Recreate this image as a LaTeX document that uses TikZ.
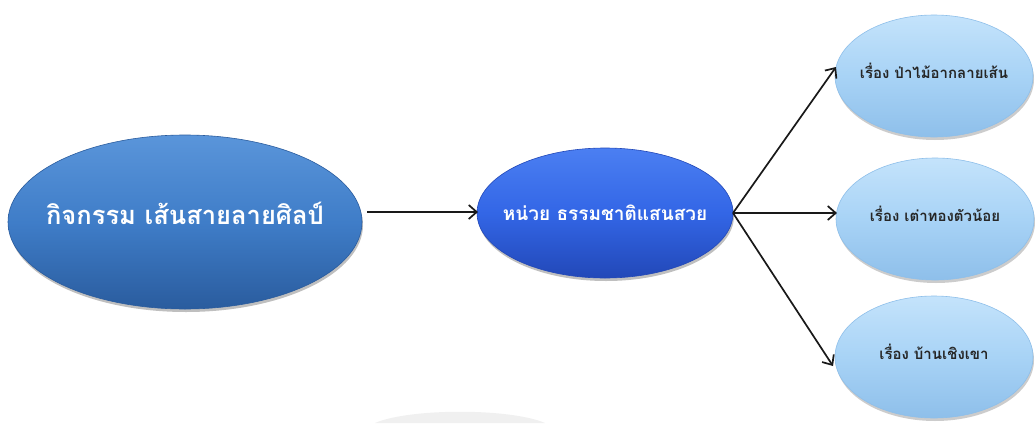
\documentclass[tikz,border=0pt]{standalone}
\usepackage{fontspec}
\newfontfamily\thaifont[Script=Thai]{Loma}
\usetikzlibrary{shapes.geometric,shadows,arrows.meta}
\definecolor{bigblue}{HTML}{3F7DC8}
\definecolor{bigblueD}{HTML}{2A5C9E}
\definecolor{bigblueL}{HTML}{5A95DA}
\definecolor{midblue}{HTML}{3366E6}
\definecolor{midblueD}{HTML}{2248B8}
\definecolor{midblueL}{HTML}{4B7FF2}
\definecolor{lblue}{HTML}{A8D3F6}
\definecolor{lblueD}{HTML}{8EBFEA}
\definecolor{lblueL}{HTML}{C4E3FB}
\tikzset{
  bigell/.style={ellipse, minimum width=354pt, minimum height=174pt, inner sep=0pt,
    draw=bigblueD, line width=0.6pt, top color=bigblueL, bottom color=bigblueD, middle color=bigblue,
    drop shadow={shadow xshift=1pt, shadow yshift=-3pt, fill=black, opacity=0.25}},
  bigtext/.style={font=\thaifont\bfseries\fontsize{25.5}{28}\selectfont, text=white},
  midell/.style={ellipse, minimum width=256pt, minimum height=130pt, inner sep=0pt,
    draw=midblueD, line width=0.6pt, top color=midblueL, bottom color=midblueD, middle color=midblue,
    drop shadow={shadow xshift=1pt, shadow yshift=-3pt, fill=black, opacity=0.25}},
  midtext/.style={font=\thaifont\bfseries\fontsize{19}{22}\selectfont, text=white},
  smallell/.style={ellipse, minimum width=198pt, minimum height=122pt, inner sep=0pt,
    draw=lblueD, line width=0.6pt, top color=lblueL, bottom color=lblueD, middle color=lblue,
    drop shadow={shadow xshift=1pt, shadow yshift=-3pt, fill=black, opacity=0.2}},
  smalltext/.style={font=\thaifont\bfseries\fontsize{15}{18}\selectfont, text=black!85, yshift=5pt},
  conn/.style={-{Straight Barb[length=8pt,width=14pt]}, line width=1.7pt, black!90}
}
\begin{document}
\begin{tikzpicture}[x=1pt,y=-1pt]
\useasboundingbox[fill=white] (0,0) rectangle (1035,423);
% faint watermark arc
\fill[black!6] (375,423) .. controls (410,408) and (510,408) .. (545,423) -- cycle;
\node[bigell, label={[bigtext, yshift=9pt]center:กิจกรรม เส้นสายลายศิลป์}] (act) at (185,222) {};
\node[midell, label={[midtext]center:หน่วย ธรรมชาติแสนสวย}] (unit) at (605,213) {};
\node[smallell, label={[smalltext]center:เรื่อง  ป่าไม้อากลายเส้น}] (s1) at (934,76) {};
\node[smallell, label={[smalltext]center:เรื่อง เต่าทองตัวน้อย}] (s2) at (935,219) {};
\node[smallell, label={[smalltext]center:เรื่อง บ้านเชิงเขา}] (s3) at (934,357) {};
\coordinate (actR) at (367,212);
\coordinate (unitL) at (478,212);
\coordinate (unitR) at (733,213);
\coordinate (s1L) at (836,67);
\coordinate (s2L) at (837,213);
\coordinate (s3L) at (833,366);
\draw[conn] (actR) -- (unitL);
\draw[conn] (unitR) -- (s1L);
\draw[conn] (unitR) -- (s2L);
\draw[conn] (unitR) -- (s3L);
\end{tikzpicture}
\end{document}
